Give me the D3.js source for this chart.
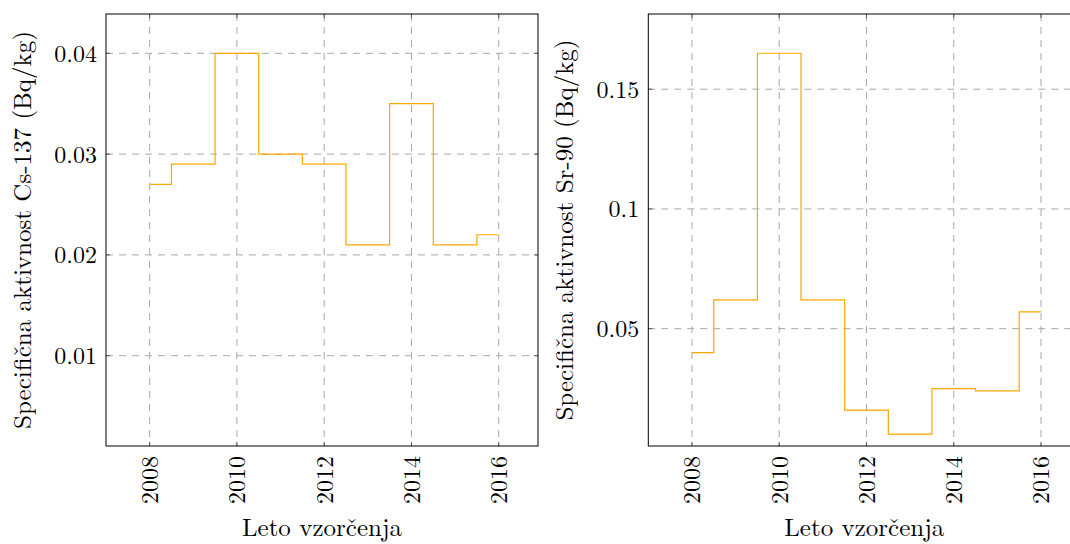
<!DOCTYPE html>
<html>
<head>
<meta charset="utf-8">
<style>
  body { margin: 0; background: #fff; }
  svg { display: block; font-family: "Latin Modern Roman", "CMU Serif", "Liberation Serif", serif; }
  .grid line { stroke: #a8a8a8; stroke-dasharray: 7,6; stroke-width: 1; }
  .frame { fill: none; stroke: #000; stroke-width: 1; }
  .step { fill: none; stroke: #ffa500; stroke-width: 1.2; }
</style>
<script src="https://d3js.org/d3.v7.min.js"></script>
</head>
<body>
<svg width="1070" height="544"></svg>
<script>
// data
var years = [2008, 2009, 2010, 2011, 2012, 2013, 2014, 2015, 2016];
var cs137 = [0.027, 0.029, 0.040, 0.030, 0.029, 0.021, 0.035, 0.021, 0.022];
var sr90  = [0.040, 0.062, 0.165, 0.062, 0.016, 0.006, 0.025, 0.024, 0.057];

var xTicks = [2008, 2010, 2012, 2014, 2016];
var csTicks = [0.01, 0.02, 0.03, 0.04];
var srTicks = [0.05, 0.1, 0.15];

var svg = d3.select("svg");
var fsTick = 24, fsTitle = 25;

function panel(left, values, yDomain, yTicks, yLabel) {
  var w = 432, h = 432, top = 14;
  var x = d3.scaleLinear().domain([2007.0, 2016.9]).range([0, w]);
  var y = d3.scaleLinear().domain(yDomain).range([h, 0]);

  var g = svg.append("g").attr("transform", "translate(" + left + "," + top + ")");

  // grid
  var grid = g.append("g").attr("class", "grid");
  grid.selectAll(".vx").data(xTicks).enter().append("line")
    .attr("x1", function(d) { return x(d); }).attr("x2", function(d) { return x(d); })
    .attr("y1", 0).attr("y2", h);
  grid.selectAll(".hy").data(yTicks).enter().append("line")
    .attr("x1", 0).attr("x2", w)
    .attr("y1", function(d) { return y(d); }).attr("y2", function(d) { return y(d); });

  // tick marks inside the frame, on all sides
  var tk = g.append("g").attr("stroke", "#555").attr("stroke-width", 1);
  xTicks.forEach(function(d) {
    tk.append("line").attr("x1", x(d)).attr("x2", x(d)).attr("y1", h).attr("y2", h - 4);
    tk.append("line").attr("x1", x(d)).attr("x2", x(d)).attr("y1", 0).attr("y2", 4);
  });
  yTicks.forEach(function(d) {
    tk.append("line").attr("x1", 0).attr("x2", 4).attr("y1", y(d)).attr("y2", y(d));
    tk.append("line").attr("x1", w).attr("x2", w - 4).attr("y1", y(d)).attr("y2", y(d));
  });

  // the step line
  var line = d3.line()
    .x(function(d, i) { return x(years[i]); })
    .y(function(d) { return y(d); })
    .curve(d3.curveStep);
  g.append("path").attr("class", "step").attr("d", line(values));

  g.append("rect").attr("class", "frame").attr("x", 0).attr("y", 0).attr("width", w).attr("height", h);

  // tick labels
  g.selectAll(".xl").data(xTicks).enter().append("text")
    .attr("transform", function(d) { return "translate(" + x(d) + "," + (h + 10) + ") rotate(-90)"; })
    .attr("text-anchor", "end").attr("dy", "0.35em")
    .attr("font-size", fsTick).text(function(d) { return d; });
  g.selectAll(".yl").data(yTicks).enter().append("text")
    .attr("x", -9).attr("y", function(d) { return y(d); })
    .attr("text-anchor", "end").attr("dy", "0.35em")
    .attr("font-size", fsTick).text(function(d) { return String(d); });

  // axis titles
  g.append("text")
    .attr("transform", "translate(" + (-75.5) + "," + (h / 2) + ") rotate(-90)")
    .attr("text-anchor", "middle").attr("font-size", fsTitle)
    .text(yLabel);
  g.append("text")
    .attr("x", w / 2).attr("y", h + 90)
    .attr("text-anchor", "middle").attr("font-size", fsTitle)
    .text("Leto vzorčenja");
}

panel(106, cs137, [0.00104, 0.0439], csTicks, "Specifična aktivnost Cs-137 (Bq/kg)");
panel(648.3, sr90, [0.001, 0.1814], srTicks, "Specifična aktivnost Sr-90 (Bq/kg)");
</script>
</body>
</html>
